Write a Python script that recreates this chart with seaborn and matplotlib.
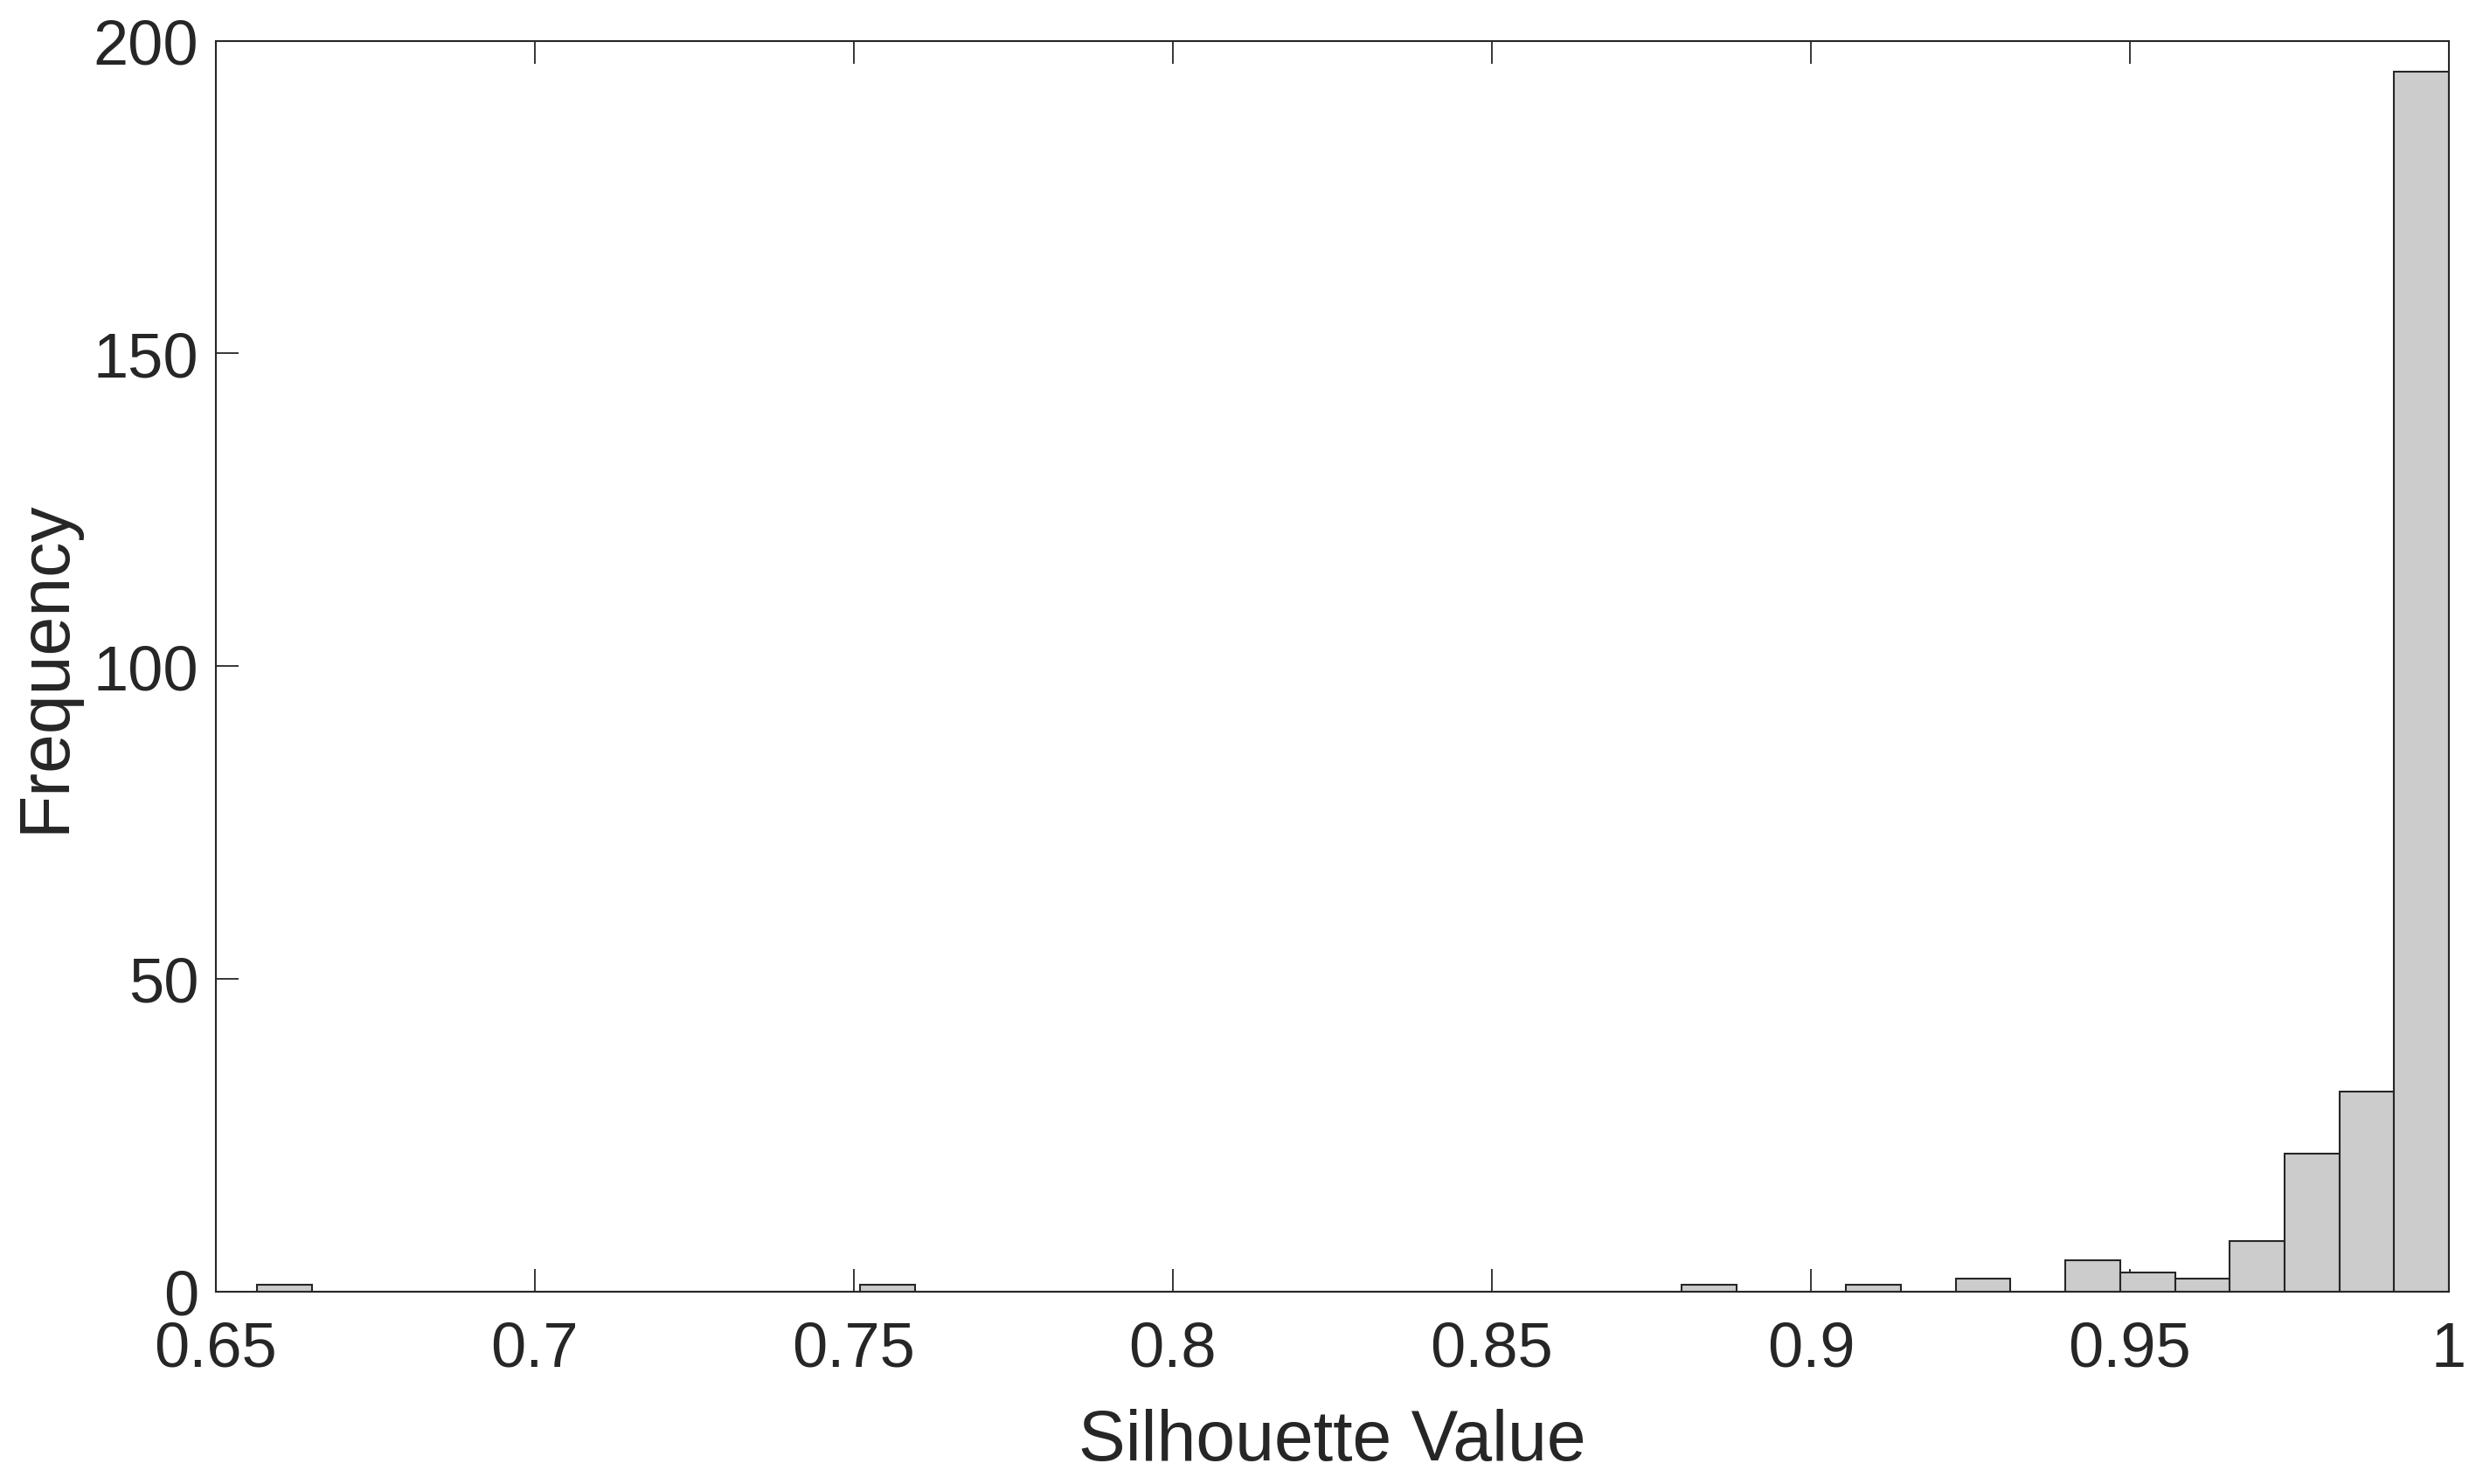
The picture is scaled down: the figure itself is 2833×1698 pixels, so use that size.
import numpy as np
import pandas as pd
import matplotlib
matplotlib.use("Agg")
import matplotlib.pyplot as plt
import seaborn as sns

# histogram layout: 40 equal bins from min to max
bin_min = 0.6565
bin_max = 1.0
n_bins = 40

# non-empty bins (index from the left) and their counts
bin_index = [0, 11, 26, 29, 31, 33, 34, 35, 36, 37, 38, 39]
bin_count = [1, 1, 1, 1, 2, 5, 3, 2, 8, 22, 32, 195]

x_ticks = [0.65, 0.7, 0.75, 0.8, 0.85, 0.9, 0.95, 1.0]
x_ticklabels = ["0.65", "0.7", "0.75", "0.8", "0.85", "0.9", "0.95", "1"]
y_ticks = [0, 50, 100, 150, 200]

ink = "#262626"

sns.set_style("ticks")
plt.rcParams["font.family"] = ["Liberation Sans", "DejaVu Sans"]

width = (bin_max - bin_min) / n_bins
centers = bin_min + width * (np.array(bin_index) + 0.5)
df = pd.DataFrame({"silhouette": centers, "count": bin_count})

fig = plt.figure(figsize=(28.33, 16.99), dpi=100)
ax = fig.add_axes([246.7 / 2833, 1 - 1478.5 / 1699,
                   (2802 - 246.7) / 2833, (1478.5 - 47.7) / 1699])

sns.histplot(data=df, x="silhouette", weights="count", bins=n_bins,
             binrange=(bin_min, bin_max), color="#cccccc", edgecolor=ink,
             linewidth=1.5, alpha=1, ax=ax)

ax.set_xlim(0.65, 1.0)
ax.set_ylim(0, 200)
ax.set_xticks(x_ticks)
ax.set_xticklabels(x_ticklabels)
ax.set_yticks(y_ticks)
ax.set_axisbelow(True)

for s in ax.spines.values():
    s.set_visible(True)
    s.set_color(ink)
    s.set_linewidth(1.5)

ax.tick_params(direction="in", length=19, width=1.3, top=True, right=True,
               color=ink, labelcolor=ink, labelsize=52)
ax.tick_params(axis="x", pad=24)
ax.tick_params(axis="y", pad=14)

ax.set_xlabel("Silhouette Value", fontsize=58, color=ink, labelpad=24)
ax.set_ylabel("Frequency", fontsize=58, color=ink, labelpad=12)

fig.savefig("out.png", dpi=100, facecolor="white")
